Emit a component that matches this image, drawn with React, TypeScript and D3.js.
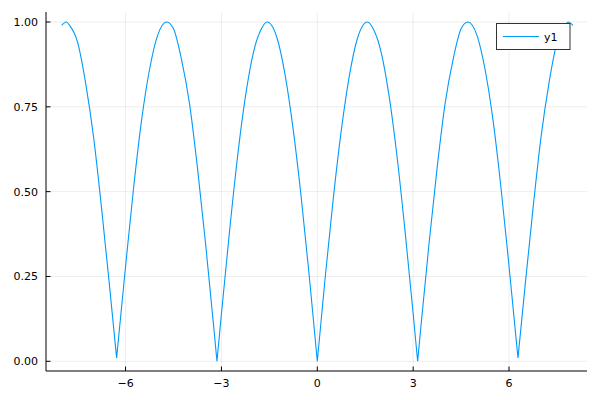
import * as d3 from 'd3'

// samples (x, |y|)
const xs = [
  -8, -7.85, -7.75, -7.5, -7.25, -7, -6.75, -6.5, -6.28,
  -6, -5.75, -5.5, -5.25, -5, -4.71, -4.5, -4.25, -4, -3.75, -3.5, -3.25, -3.14,
  -3, -2.75, -2.5, -2.25, -2, -1.75, -1.57, -1.25, -1, -0.75, -0.5, -0.25, 0,
  0.25, 0.5, 0.75, 1, 1.25, 1.57, 1.75, 2, 2.25, 2.5, 2.75, 3, 3.14,
  3.25, 3.5, 3.75, 4, 4.25, 4.5, 4.71, 5, 5.25, 5.5, 5.75, 6, 6.28,
  6.5, 6.75, 7, 7.25, 7.5, 7.75, 7.85, 8,
]
const ys = [
  0.99, 1.0, 0.99, 0.94, 0.82, 0.66, 0.45, 0.22, 0.01,
  0.28, 0.51, 0.71, 0.86, 0.96, 1.0, 0.98, 0.89, 0.76, 0.57, 0.35, 0.11, 0.0,
  0.14, 0.38, 0.6, 0.78, 0.91, 0.98, 1.0, 0.95, 0.84, 0.68, 0.48, 0.25, 0.0,
  0.25, 0.48, 0.68, 0.84, 0.95, 1.0, 0.98, 0.91, 0.78, 0.6, 0.38, 0.14, 0.0,
  0.11, 0.35, 0.57, 0.76, 0.89, 0.98, 1.0, 0.96, 0.86, 0.71, 0.51, 0.28, 0.01,
  0.22, 0.45, 0.66, 0.82, 0.94, 0.99, 1.0, 0.99,
]
const xTicks = [-6, -3, 0, 3, 6]
const yTicks = [0, 0.25, 0.5, 0.75, 1]
const seriesName = 'y1'

const W = 600
const H = 400
const m = { left: 46, right: 13, top: 12, bottom: 29 }
const font = '"DejaVu Sans", sans-serif'
const lineColor = '#009afa'

export default function App() {
  const x = d3.scaleLinear().domain([-8.49, 8.44]).range([m.left, W - m.right])
  const y = d3.scaleLinear().domain([-0.0286, 1.0295]).range([H - m.bottom, m.top])

  const pts: [number, number][] = xs.map((v, i) => [v, ys[i]])
  // split into arches at the zeros so the cusps stay sharp
  const arches: [number, number][][] = []
  let cur: [number, number][] = []
  pts.forEach((p, i) => {
    cur.push(p)
    const isMin = i > 0 && i < pts.length - 1 && p[1] < pts[i - 1][1] && p[1] < pts[i + 1][1]
    if (isMin) {
      arches.push(cur)
      cur = [p]
    }
  })
  arches.push(cur)

  const line = d3.line<[number, number]>()
    .x(d => x(d[0]))
    .y(d => y(d[1]))
    .curve(d3.curveMonotoneX)
  const pathD = arches.map(a => line(a)).join('')

  const [x0, x1] = x.range()
  const [y0, y1] = y.range()
  const fmtY = d3.format('.2f')
  const fmtX = (v: number) => (v < 0 ? '\u2212' + Math.abs(v) : String(v))

  return (
    <svg width={W} height={H} style={{ position: 'absolute', left: 0, top: 0, background: '#fff' }}
      fontFamily={font}>
      {/* grid */}
      {xTicks.map(t => (
        <line key={'gx' + t} x1={x(t)} x2={x(t)} y1={y1} y2={y0} stroke="#000" strokeOpacity={0.07} />
      ))}
      {yTicks.map(t => (
        <line key={'gy' + t} x1={x0} x2={x1} y1={y(t)} y2={y(t)} stroke="#000" strokeOpacity={0.07} />
      ))}

      {/* axes */}
      <line x1={x0} x2={x0} y1={y1} y2={y0} stroke="#000" />
      <line x1={x0} x2={x1} y1={y0} y2={y0} stroke="#000" />
      {xTicks.map(t => (
        <g key={'tx' + t}>
          <line x1={x(t)} x2={x(t)} y1={y0} y2={y0 - 4.5} stroke="#000" />
          <text x={x(t)} y={y0 + 16} textAnchor="middle" fontSize={11} fill="#000">{fmtX(t)}</text>
        </g>
      ))}
      {yTicks.map(t => (
        <g key={'ty' + t}>
          <line x1={x0} x2={x0 + 4.5} y1={y(t)} y2={y(t)} stroke="#000" />
          <text x={38} y={y(t) + 4} textAnchor="end" fontSize={11} fill="#000">{fmtY(t)}</text>
        </g>
      ))}

      {/* series */}
      <path d={pathD} fill="none" stroke={lineColor} strokeWidth={1.1} />

      {/* legend */}
      <rect x={496.5} y={23.5} width={73.5} height={26} fill="#fff" stroke="#333" strokeWidth={1} />
      <line x1={503} x2={539} y1={36.5} y2={36.5} stroke={lineColor} />
      <text x={544} y={41} fontSize={11} fill="#000">{seriesName}</text>
    </svg>
  )
}
